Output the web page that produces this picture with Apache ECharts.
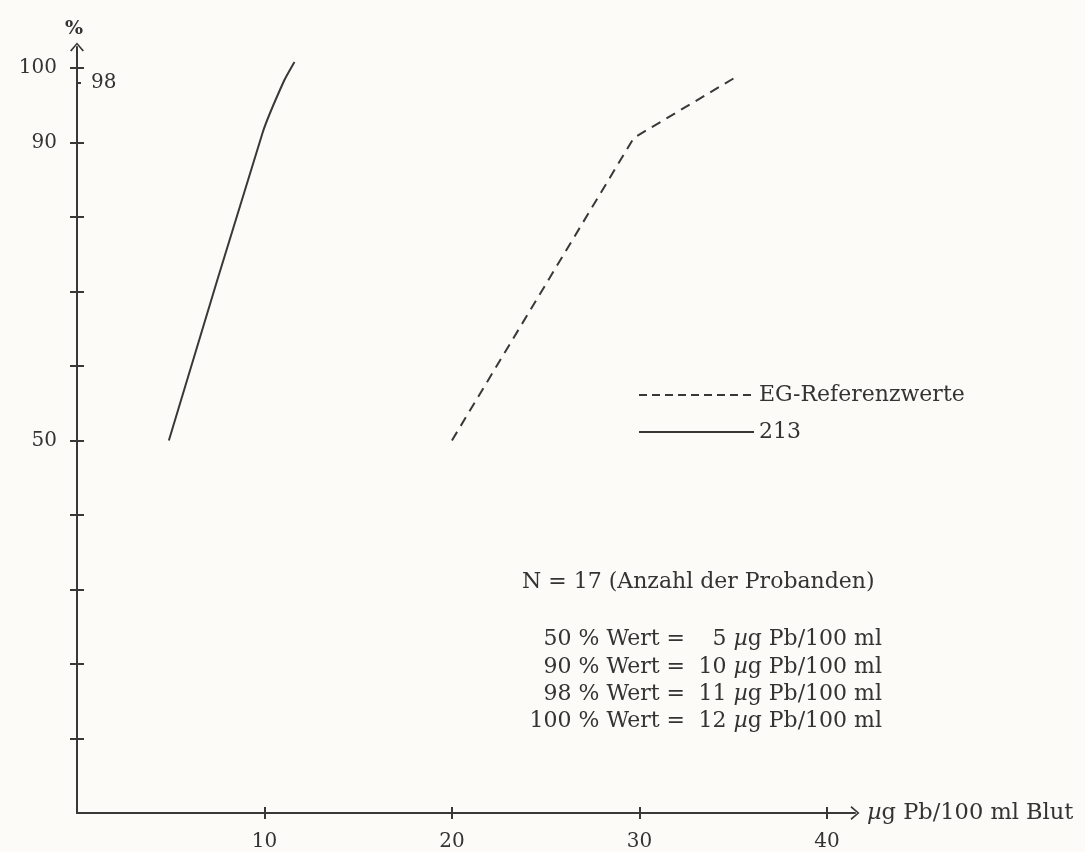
<!DOCTYPE html>
<html><head><meta charset="utf-8">
<script src="https://cdn.jsdelivr.net/npm/echarts@6/dist/echarts.min.js"></script>
<style>html,body{margin:0;padding:0;background:#fcfbf7}#c{width:1085px;height:852px}</style>
</head><body><div id="c"></div>
<script>
// ---- data ----
const seriesNames = ['EG-Referenzwerte', '213'];
const refX = [20, 29.7, 35.1];
const refY = [50, 90.6, 98.7];
const grpX = [4.9, 9.9, 11.05, 11.6];
const grpY = [50, 91.3, 98.3, 100.8];
const xTicks = [10, 20, 30, 40];
const yTicks = [10, 20, 30, 40, 50, 60, 70, 80, 90, 100];
const yLabels = [50, 90, 100];
const yInner = [98];
const xName = '{i|µ}g Pb/100 ml Blut';
const yName = '%';
const noteHead = 'N = 17 (Anzahl der Probanden)';
const notesLeft = ['50 % Wert =', '90 % Wert =', '98 % Wert =', '100 % Wert ='];
const notesRight = ['5 {i|µ}g Pb/100 ml', '10 {i|µ}g Pb/100 ml', '11 {i|µ}g Pb/100 ml', '12 {i|µ}g Pb/100 ml'];

// ---- style ----
const INK = '#383838';
const TXT = '#333333';
const FONT = '"DejaVu Serif", serif';
const FS = 22;      // annotation / legend text
const TS = 20;      // tick labels
const G = {left: 77, top: 47, right: 230, bottom: 39};
const W = 1085 - G.left - G.right, H = 852 - G.top - G.bottom;
const XMAX = 41.5, YMAX = 102.8;
const arrow = 'path://M0,8 L7,0 L14,8 L12.6,9 L7,2.3 L1.4,9 Z';
const richFor = (fs) => ({i: {fontStyle: 'italic', fontFamily: FONT, fontSize: fs, color: TXT}});

const chart = echarts.init(document.getElementById('c'), null, {renderer: 'canvas'});
const toPairs = (xs, ys) => xs.map((x, i) => [x, ys[i]]);

const baseX = {type: 'value', min: 0, max: XMAX, interval: 10, splitLine: {show: false}};
const baseY = {type: 'value', min: 0, max: YMAX, interval: 10, splitLine: {show: false}};
const tickStyle = {color: INK, width: 2};

const graphics = [];
graphics.push({type: 'text', x: 522, y: 582, style: {text: noteHead, font: FS + 'px ' + FONT, fill: TXT, align: 'left', verticalAlign: 'middle'}});
const rowY = [639, 667, 694, 721];
notesLeft.forEach((t, i) => {
  graphics.push({type: 'text', x: 685, y: rowY[i], style: {text: t, font: FS + 'px ' + FONT, fill: TXT, align: 'right', verticalAlign: 'middle'}});
  graphics.push({type: 'text', x: 882, y: rowY[i], style: {text: notesRight[i], font: FS + 'px ' + FONT, fill: TXT, align: 'right', verticalAlign: 'middle', rich: richFor(FS)}});
});

chart.setOption({
  backgroundColor: '#fcfbf7',
  animation: false,
  textStyle: {fontFamily: FONT, color: TXT},
  grid: [
    G,                                                  // main plot
    {left: 0, width: G.left, top: G.top, height: H},    // strip left of plot: its right edge carries inward y ticks
    {left: G.left, width: W, top: 852 - G.bottom, height: G.bottom} // strip under plot: its top edge carries inward x ticks
  ],
  legend: {
    orient: 'vertical', left: 638, top: 383, padding: 0, itemWidth: 115, itemHeight: 14, itemGap: 13,
    textStyle: {fontFamily: FONT, fontSize: FS, color: TXT, lineHeight: 24},
    data: [
      {name: seriesNames[0], lineStyle: {type: [8, 5]}, itemStyle: {opacity: 0}},
      {name: seriesNames[1], itemStyle: {opacity: 0}}
    ]
  },
  xAxis: [
    Object.assign({}, baseX, {
      gridIndex: 0, position: 'bottom',
      name: xName, nameLocation: 'end', nameGap: 12,
      nameTextStyle: {fontFamily: FONT, fontSize: 22.5, color: TXT, rich: richFor(22.5)},
      axisLine: {show: true, onZero: false, symbol: ['none', arrow], symbolSize: [14, 9], lineStyle: {color: INK, width: 2}},
      axisTick: {show: true, inside: false, length: 6, customValues: xTicks, lineStyle: tickStyle},
      axisLabel: {show: true, customValues: xTicks, margin: 19, fontFamily: FONT, fontSize: TS, color: TXT}
    }),
    Object.assign({}, baseX, {
      gridIndex: 2, position: 'top',
      axisLine: {show: false, onZero: false},
      axisTick: {show: true, inside: false, length: 6, customValues: xTicks, lineStyle: tickStyle},
      axisLabel: {show: false}
    }),
    Object.assign({}, baseX, {gridIndex: 1, show: false})
  ],
  yAxis: [
    Object.assign({}, baseY, {
      gridIndex: 0, position: 'left',
      name: yName, nameLocation: 'end', nameGap: 8,
      nameTextStyle: {fontFamily: FONT, fontSize: 19, fontWeight: 'bold', color: TXT, align: 'center', padding: [0, 6, 0, 0]},
      axisLine: {show: true, onZero: false, symbol: ['none', arrow], symbolSize: [14, 9], lineStyle: {color: INK, width: 2}},
      axisTick: {show: true, inside: false, length: 7, customValues: yTicks, lineStyle: tickStyle},
      axisLabel: {show: true, customValues: yLabels, margin: 20, fontFamily: FONT, fontSize: TS, color: TXT}
    }),
    Object.assign({}, baseY, {
      gridIndex: 1, position: 'right',
      axisLine: {show: false, onZero: false},
      axisTick: {show: true, inside: false, length: 7, customValues: yTicks, lineStyle: tickStyle},
      axisLabel: {show: false}
    }),
    Object.assign({}, baseY, {
      gridIndex: 1, position: 'right',
      axisLine: {show: false, onZero: false},
      axisTick: {show: true, inside: false, length: 4, customValues: yInner, lineStyle: tickStyle},
      axisLabel: {show: true, customValues: yInner, margin: 14, fontFamily: FONT, fontSize: TS, color: TXT}
    }),
    Object.assign({}, baseY, {gridIndex: 2, show: false})
  ],
  series: [
    {name: seriesNames[0], type: 'line', xAxisIndex: 0, yAxisIndex: 0, data: toPairs(refX, refY),
     symbol: 'none', lineStyle: {color: INK, width: 2, type: [10, 7]}, itemStyle: {color: INK}},
    {name: seriesNames[1], type: 'line', xAxisIndex: 0, yAxisIndex: 0, data: toPairs(grpX, grpY),
     symbol: 'none', smooth: 0.2, lineStyle: {color: INK, width: 2, type: 'solid'}, itemStyle: {color: INK}}
  ],
  graphic: graphics
});
</script></body></html>
